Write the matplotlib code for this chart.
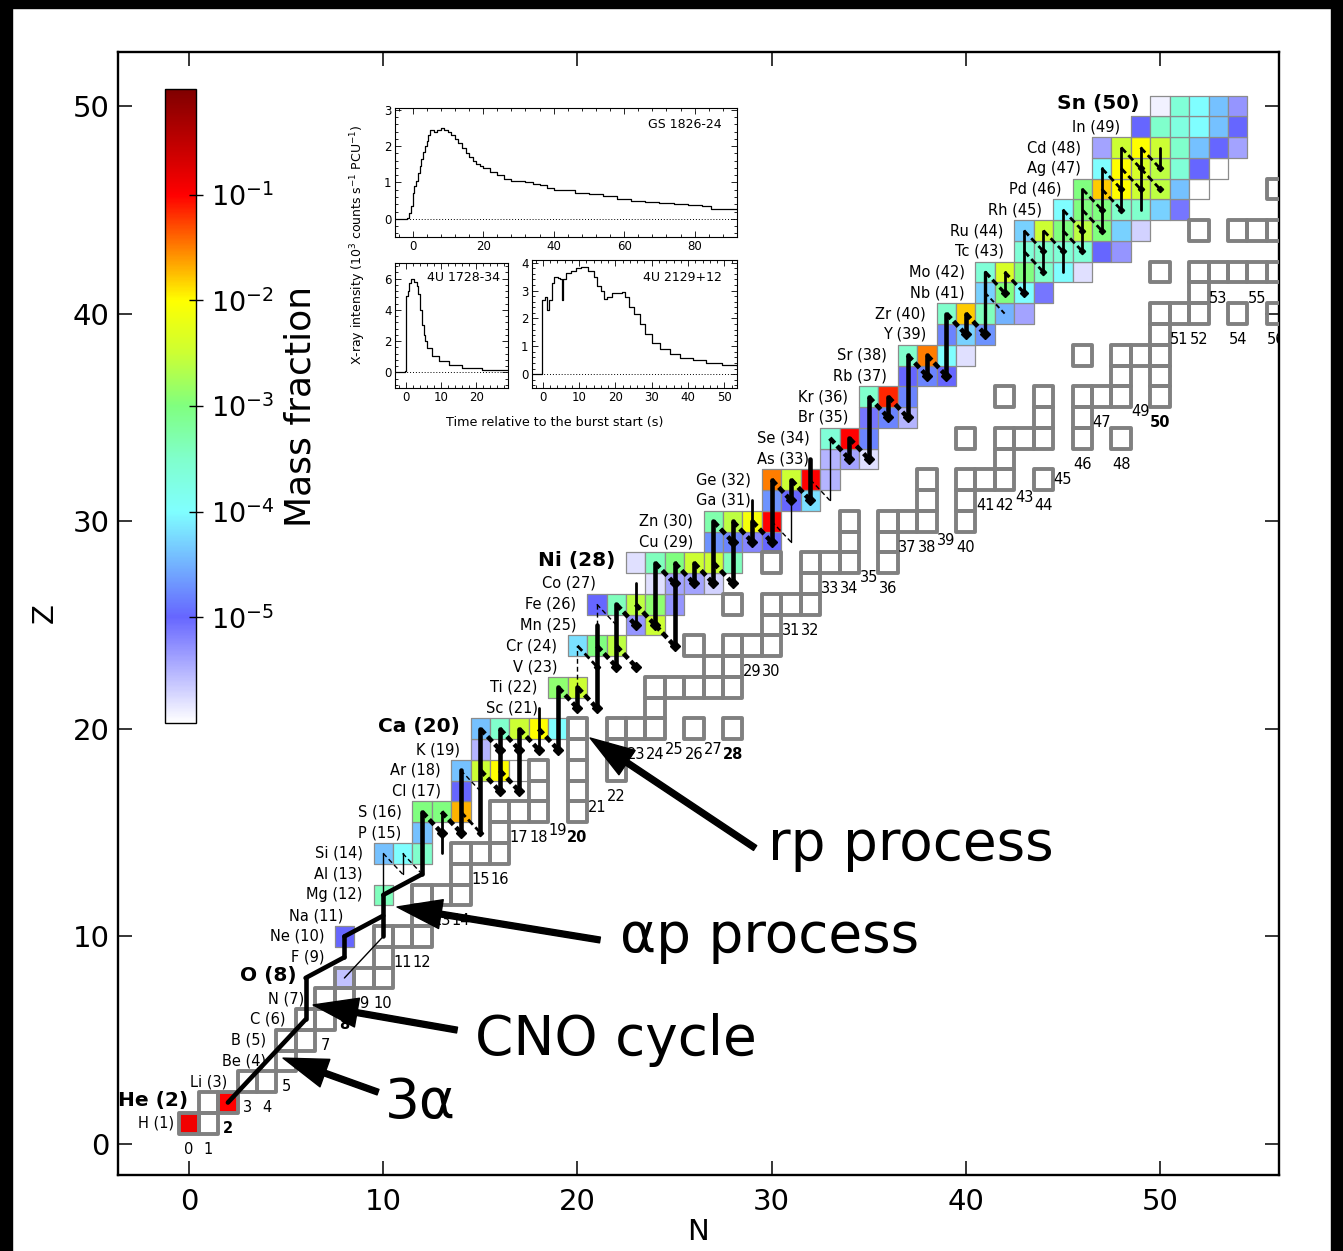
import matplotlib
matplotlib.use("Agg")
import matplotlib.pyplot as plt
from matplotlib.colors import LinearSegmentedColormap, LogNorm
from matplotlib.patches import Rectangle
from matplotlib.collections import PatchCollection
from matplotlib.cm import ScalarMappable
from matplotlib.ticker import AutoMinorLocator, NullLocator

plt.rcParams['font.family'] = ['DejaVu Sans']
plt.rcParams['mathtext.fontset'] = 'cm'

# ------------------------------------------------------------------ data
elements = ["H", "He", "Li", "Be", "B", "C", "N", "O", "F", "Ne", "Na", "Mg", "Al", "Si",
            "P", "S", "Cl", "Ar", "K", "Ca", "Sc", "Ti", "V", "Cr", "Mn", "Fe", "Co", "Ni",
            "Cu", "Zn", "Ga", "Ge", "As", "Se", "Br", "Kr", "Rb", "Sr", "Y", "Zr", "Nb", "Mo",
            "Tc", "Ru", "Rh", "Pd", "Ag", "Cd", "In", "Sn"]
magic = [2, 8, 20, 28, 50]

# stable nuclides: proton number and the neutron numbers of its stable isotopes
stable_Z = [1, 2, 3, 4, 5, 6, 7, 8, 9, 10, 11, 12, 13, 14, 15, 16, 17, 18, 19, 20, 21, 22,
            23, 24, 25, 26, 27, 28, 29, 30, 31, 32, 33, 34, 35, 36, 37, 38, 39, 40, 41, 42,
            44, 46]
stable_N = [[0, 1], [1, 2], [3, 4], [5], [5, 6], [6, 7], [7, 8], [8, 9, 10], [10],
            [10, 11, 12], [12], [12, 13, 14], [14], [14, 15, 16], [16], [16, 17, 18, 20],
            [18, 20], [18, 20, 22], [20, 22], [20, 22, 23, 24, 26, 28], [24],
            [24, 25, 26, 27, 28], [27, 28], [26, 28, 29, 30], [30], [28, 30, 31, 32], [32],
            [30, 32, 33, 34, 36], [34, 36], [34, 36, 37, 38, 40], [38, 40],
            [38, 40, 41, 42, 44], [42], [40, 42, 43, 44, 46, 48], [44, 46],
            [42, 44, 46, 47, 48, 50], [48, 50], [46, 48, 49, 50], [50],
            [50, 51, 52, 54, 56], [52], [50, 52, 53, 54, 55, 56], [52, 54, 55, 56], [56]]

# final mass fractions (log10) of burst ashes: row Z, first N of the row, values
ab_Z = [1, 2, 8, 10, 12, 14, 15, 16, 17, 18, 19, 20, 22, 24, 25, 26, 27, 28, 29, 30, 31,
        32, 33, 34, 35, 36, 37, 38, 39, 40, 41, 42, 43, 44, 45, 46, 47, 48, 49, 50]
ab_N0 = [0, 2, 8, 8, 10, 10, 12, 12, 14, 14, 15, 15, 19, 20, 23, 21, 24, 23, 27, 27, 30,
         30, 33, 33, 35, 35, 37, 37, 39, 39, 41, 41, 43, 43, 45, 46, 47, 47, 49, 50]
ab_logX = [[-0.9], [-1.0], [-5.6], [-5.0], [-3.4],
           [-4.4, -4.0, -3.5], [-4.4], [-3.0, -3.0, -1.7], [-5.0],
           [-4.4, -2.5, -2.0, -6.0], [-5.5], [-4.4, -3.5, -2.5, -2.0, -4.0],
           [-2.9, -2.5], [-4.2, -3.0, -2.6], [-5.3, -2.5],
           [-5.0, -3.4, -2.6, -2.9, -5.3], [-5.8, -5.4, -5.4, -5.7],
           [-5.8, -3.4, -3.0, -2.5, -2.5, -3.4], [-4.7, -4.8, -5.2, -5.0],
           [-3.3, -2.6, -2.1, -1.0], [-4.7, -5.0, -4.2], [-1.5, -2.5, -1.0, -5.5],
           [-5.5, -5.4, -5.8], [-3.6, -1.0, -4.8], [-5.1, -4.8, -5.5], [-3.5, -1.15, -4.8],
           [-5.0, -4.8, -5.0], [-3.5, -1.5, -4.0, -5.8], [-4.8, -4.3, -4.7],
           [-3.5, -1.8, -3.4, -4.5, -5.4], [-4.3, -3.0, -4.0, -5.1],
           [-3.6, -2.4, -3.0, -3.5, -4.0, -5.8], [-3.6, -3.5, -3.6, -3.6, -5.0, -5.3],
           [-4.3, -2.5, -3.0, -2.6, -3.0, -4.3, -5.7],
           [-4.0, -3.0, -3.0, -3.5, -3.5, -4.3, -5.1],
           [-3.0, -1.8, -2.0, -2.5, -2.6, -4.4, -6.3],
           [-4.0, -2.0, -2.4, -2.6, -3.6, -5.0, -6.3],
           [-5.4, -2.5, -2.0, -2.5, -3.5, -4.4, -5.0, -5.4],
           [-5.0, -3.5, -3.7, -4.0, -4.4, -5.0], [-5.9, -3.6, -4.0, -4.4, -5.3]]

# reaction flows (nuclide coordinates N, Z); weight 1 thin .. 3 thick
flow_other = [(2, 2, 6, 6, 3), (8, 8, 10, 10, 1)]             # 3alpha, (a,g)
flow_ap = [(6, 8, 3), (8, 10, 3), (10, 12, 3)]                 # (a,p): N+2, Z+1
flow_pg = [(6, 6, 8, 3, '-'), (8, 9, 10, 3, '-'), (10, 10, 12, 3, '-'), (10, 12, 14, 1, '-'),
           (11, 13, 14, 1, '-'), (12, 13, 16, 3, '-'), (13, 14, 16, 2, '-'),
           (14, 15, 18, 3, '-'), (15, 15, 20, 3, '-'), (16, 17, 20, 3, '-'),
           (17, 17, 20, 3, '-'), (18, 19, 21, 2, '-'), (19, 19, 22, 3, '-'),
           (20, 21, 22, 3, '-'), (20, 22, 24, 1, '--'), (21, 21, 25, 3, '-'),
           (21, 25, 26, 1, '--'), (22, 23, 26, 3, '-'), (23, 25, 27, 2, '-'),
           (24, 25, 28, 3, '-'), (25, 24, 28, 3, '-'), (26, 27, 28, 3, '-'),
           (27, 27, 30, 3, '-'), (28, 27, 30, 3, '-'), (29, 29, 30, 3, '-'),
           (29, 30, 31, 2, '-'), (30, 29, 32, 3, '-'), (31, 29, 31, 1, '-'),
           (31, 31, 32, 3, '-'), (32, 31, 33, 3, '-'), (33, 31, 34, 1, '-'),
           (34, 33, 34, 3, '-'), (35, 33, 36, 3, '-'), (36, 35, 36, 3, '-'),
           (37, 35, 38, 3, '-'), (38, 37, 38, 3, '-'), (39, 37, 40, 3, '-'),
           (40, 39, 40, 3, '-'), (41, 39, 42, 2.5, '-'), (42, 41, 42, 2, '-'),
           (43, 41, 44, 2, '-'), (44, 42, 44, 2, '-'), (45, 42, 45, 2, '-'),
           (46, 43, 46, 2, '-'), (47, 44, 47, 2, '-'), (48, 45, 48, 2, '-'),
           (49, 45, 48, 2, '-'), (50, 47, 48, 2, '-')]
flow_beta = [(10, 14, 1), (11, 14, 1), (12, 16, 3), (13, 16, 3), (14, 16, 2), (14, 18, 1),
             (15, 18, 3), (16, 18, 3), (15, 20, 3), (16, 20, 3), (17, 20, 3), (18, 20, 3),
             (19, 22, 3), (20, 22, 3), (20, 24, 2), (21, 24, 3), (22, 24, 3), (21, 26, 1),
             (22, 26, 3), (23, 26, 3), (24, 25, 3), (24, 28, 3), (25, 28, 3), (26, 28, 3),
             (27, 28, 3), (27, 30, 3), (28, 30, 3), (29, 30, 3), (30, 30, 1), (30, 32, 3),
             (31, 32, 3), (32, 32, 1), (33, 34, 3), (34, 34, 3), (35, 36, 3), (36, 36, 3),
             (37, 38, 3), (38, 38, 3), (39, 40, 3), (40, 40, 3), (41, 42, 2.5), (41, 41, 1.5),
             (42, 42, 2.5), (43, 44, 2), (43, 43, 2), (44, 44, 2), (45, 45, 2), (45, 44, 2),
             (46, 46, 2), (46, 45, 2), (47, 47, 2), (47, 46, 2), (48, 48, 2), (48, 47, 2),
             (49, 48, 2), (49, 47, 2)]

# X-ray burst light curves (time s, 10^3 counts/s/PCU)
gs_t = [-5, -1.5, -1, -0.5, 0, 0.5, 1, 1.5, 2, 2.5, 3, 3.5, 4, 4.5, 5, 6, 7, 8, 9, 10, 11,
        12, 13, 14, 15, 16, 17, 18, 19, 20, 22, 24, 26, 28, 30, 32, 34, 36, 38, 40, 43, 46,
        50, 54, 58, 62, 66, 70, 74, 78, 82, 84.5, 92]
gs_c = [0.0, 0.02, 0.15, 0.35, 0.7, 0.9, 1.05, 1.25, 1.45, 1.65, 1.85, 2.0, 2.15, 2.3, 2.45,
        2.4, 2.45, 2.5, 2.45, 2.4, 2.3, 2.2, 2.1, 1.95, 1.8, 1.7, 1.6, 1.5, 1.45, 1.4, 1.3,
        1.2, 1.1, 1.05, 1.05, 1.0, 0.97, 0.92, 0.85, 0.8, 0.78, 0.72, 0.68, 0.62, 0.55,
        0.5, 0.47, 0.43, 0.41, 0.38, 0.36, 0.27, 0.27]
u1728_t = [-3, -0.3, 0.2, 0.6, 1.1, 1.6, 2.5, 3.1, 3.6, 4.1, 4.6, 5.1, 5.6, 6.2, 7.6, 9.4,
           12.2, 16, 21.5, 29]
u1728_c = [0.05, 0.1, 4.9, 5.2, 5.7, 6.0, 5.8, 5.5, 5.0, 4.0, 3.0, 2.4, 2.0, 1.55, 1.05,
           0.72, 0.5, 0.3, 0.15, 0.15]
u2129_t = [-3, -0.2, 0.6, 1.2, 1.8, 2.5, 3.2, 4.1, 4.8, 5.3, 5.6, 6.4, 7.7, 9.1, 10.5, 12.3,
           14.1, 15.0, 15.9, 16.8, 17.7, 19.1, 20.5, 21.8, 22.7, 23.6, 25.0, 26.8, 28.2,
           30.0, 32.3, 35.0, 37.7, 41.4, 45.0, 49.5, 53.5]
u2129_c = [0.0, 2.66, 2.78, 2.3, 2.66, 3.27, 3.5, 3.45, 3.4, 2.66, 3.4, 3.63, 3.7, 3.8, 3.85,
           3.7, 3.5, 3.15, 3.0, 2.7, 2.78, 2.9, 2.93, 2.96, 2.78, 2.4, 2.17, 1.8, 1.44,
           1.13, 0.89, 0.71, 0.59, 0.49, 0.4, 0.32, 0.28]

# ------------------------------------------------------------------ layout helpers
elem_label_N = [0.3, 1, 3, 5, 5, 6, 7, 6.61, 8, 8, 9, 10, 10, 10, 12, 12, 14, 14, 15, 15, 19,
                19, 20, 20, 21, 21, 22, 23, 27, 27, 30, 30, 33, 33, 35, 35, 37, 37, 39, 39,
                41, 41, 43, 43, 45, 46, 47, 47, 49, 50]
nlabel_override = {19: 15.1, 21: 16.2, 25: 19.0, 27: 19.0, 35: 27.3, 39: 29.05, 43: 31.15,
                   45: 32.0, 49: 35.3}

W, H = 1343, 1251
fig = plt.figure(figsize=(W / 100, H / 100), dpi=100)
fig.patch.set_facecolor('white')
ax = fig.add_axes([118 / W, 1 - 1175 / H, (1279 - 118) / W, (1175 - 52) / H])
ax.set_xlim(-3.66, 56.13)
ax.set_ylim(-1.49, 52.6)

cols = [(0, (1, 1, 1)), (1 / 6, (0.4, 0.4, 1.0)), (0.25, (0.45, 0.7, 1.0)),
        (2 / 6, (0.5, 1.0, 1.0)), (2.5 / 6, (0.5, 1.0, 0.8)), (0.5, (0.5, 1.0, 0.5)),
        (3.5 / 6, (0.8, 1.0, 0.2)), (4 / 6, (1.0, 1.0, 0.0)), (0.75, (1.0, 0.5, 0.0)),
        (5 / 6, (1.0, 0.0, 0.0)), (1.0, (0.5, 0.0, 0.0))]
cmap = LinearSegmentedColormap.from_list('massfrac', cols, N=512)
norm = LogNorm(1e-6, 1.0)

rects, fcs = [], []
for Z, N0, vals in zip(ab_Z, ab_N0, ab_logX):
    for i, v in enumerate(vals):
        rects.append(Rectangle((N0 + i - 0.5, Z - 0.5), 1, 1))
        fcs.append(cmap(norm(10 ** v)))
ax.add_collection(PatchCollection(rects, facecolors=fcs, edgecolors='0.55',
                                  linewidths=0.9, zorder=2))

srects = [Rectangle((N - 0.5, Z - 0.5), 1, 1)
          for Z, Ns in zip(stable_Z, stable_N) for N in Ns]
ax.add_collection(PatchCollection(srects, facecolors='none', edgecolors='0.5',
                                  linewidths=2.8, zorder=3))

lw_of = {1: 1.0, 1.5: 1.4, 2: 2.0, 2.5: 2.4, 3: 3.3}


def line(n1, z1, n2, z2, w, ls='-'):
    lw = lw_of[w]
    if ls == '--':
        d = 5.0 if w >= 2 else 3.5
        g = 2.6 if w >= 2 else 2.2
        ls = (0, (d / lw, g / lw))
    ax.plot([n1, n2], [z1, z2], color='k', lw=lw, ls=ls, solid_capstyle='round',
            dash_capstyle='butt', zorder=4)


for n1, z1, n2, z2, w in flow_other:
    line(n1, z1, n2, z2, w)
for n, z, w in flow_ap:
    line(n, z, n + 2, z + 1, w)
for n, zlo, zhi, w, ls in flow_pg:
    line(n, zlo, n, zhi, w, ls)
for n, z, w in flow_beta:
    line(n, z, n + 1, z - 1, w, '--')
    if w >= 2:
        ax.plot(n + 1, z - 1, marker='D', ms=1.6 * lw_of[w], color='k', zorder=4)

# element labels
for i, name in enumerate(elements):
    Z = i + 1
    x = elem_label_N[i] - 1.05
    if Z in magic:
        ax.text(x, Z + 0.1, f"{name} ({Z})", ha='right', va='center', fontsize=14.5,
                fontweight='bold', zorder=5)
    else:
        ax.text(x, Z, f"{name} ({Z})", ha='right', va='center', fontsize=10.5, zorder=5)

# neutron number labels
zmin = {}
for Z, Ns in zip(stable_Z, stable_N):
    for N in Ns:
        zmin[N] = min(zmin.get(N, 99), Z)
for N in range(0, 57):
    zl = nlabel_override.get(N, zmin.get(N, 0) - 1.25)
    ax.text(N, zl, str(N), ha='center', va='center', fontsize=10.5,
            fontweight='bold' if N in magic else 'normal', zorder=5, clip_on=True)

# process annotations
arrow_kw = dict(facecolor='k', edgecolor='k', width=4.2, headwidth=21, headlength=32,
                shrink=0)
ax.annotate('', xy=(20.65, 19.56), xytext=(29.15, 14.26), arrowprops=arrow_kw, zorder=6)
ax.annotate('', xy=(10.71, 11.42), xytext=(21.16, 9.83), arrowprops=arrow_kw, zorder=6)
ax.annotate('', xy=(6.39, 6.70), xytext=(13.8, 5.49), arrowprops=arrow_kw, zorder=6)
ax.annotate('', xy=(4.84, 4.14), xytext=(9.73, 2.50), arrowprops=arrow_kw, zorder=6)
ax.text(29.81, 13.68, 'rp process', fontsize=39.5, va='baseline', ha='left', zorder=6)
ax.text(22.19, 9.25, 'αp process', fontsize=39.5, va='baseline', ha='left', zorder=6)
ax.text(14.73, 4.29, 'CNO cycle', fontsize=39.5, va='baseline', ha='left', zorder=6)
ax.text(10.09, 1.25, '3α', fontsize=39.5, va='baseline', ha='left', zorder=6)

ax.set_xticks(range(0, 51, 10))
ax.set_yticks(range(0, 51, 10))
ax.tick_params(direction='in', length=10, width=1.1, top=True, right=True, labelsize=21)
ax.tick_params(axis='x', pad=9)
ax.tick_params(axis='y', pad=6)
for s in ax.spines.values():
    s.set_linewidth(1.7)
ax.set_xlabel('N', fontsize=21, labelpad=2)
ax.set_ylabel('Z', fontsize=21, labelpad=10)

# colorbar
cax = fig.add_axes([165 / W, 1 - 723 / H, 31 / W, (723 - 89) / H])
cb = fig.colorbar(ScalarMappable(norm=norm, cmap=cmap), cax=cax)
cb.set_ticks([1e-5, 1e-4, 1e-3, 1e-2, 1e-1])
cax.yaxis.set_minor_locator(NullLocator())
cax.tick_params(direction='inout', length=10, width=1, labelsize=19.5, pad=6)
cb.outline.set_linewidth(1.0)
cb.set_label('Mass fraction', fontsize=26, labelpad=6)


# light-curve inset
def inset(rect, t, c, xlim, ylim, xt, yt, label, lx, ly):
    a = fig.add_axes(rect)
    a.step(t, c, where='post', color='k', lw=0.9)
    a.axhline(0, color='k', ls=(0, (1, 2)), lw=0.7)
    a.set_xlim(*xlim)
    a.set_ylim(*ylim)
    a.set_xticks(xt)
    a.set_yticks(yt)
    a.xaxis.set_minor_locator(AutoMinorLocator(5))
    a.yaxis.set_minor_locator(AutoMinorLocator(5))
    a.tick_params(which='both', direction='in', top=True, right=True, labelsize=8.5,
                  width=0.6, pad=2.5)
    a.tick_params(which='major', length=4)
    a.tick_params(which='minor', length=2)
    for s in a.spines.values():
        s.set_linewidth(0.8)
    a.text(lx, ly, label, transform=a.transAxes, ha='right', va='center', fontsize=9)
    return a


inset([395 / W, 1 - 237 / H, 342 / W, 129 / H], gs_t, gs_c, (-5, 92), (-0.5, 3.05),
      [0, 20, 40, 60, 80], [0, 1, 2, 3], 'GS 1826-24', 0.956, 0.875)
inset([395 / W, 1 - 388 / H, 113 / W, 125 / H], u1728_t, u1728_c, (-3, 29), (-1, 7),
      [0, 10, 20], [0, 2, 4, 6], '4U 1728-34', 0.93, 0.88)
inset([532 / W, 1 - 388 / H, 205 / W, 128 / H], u2129_t, u2129_c, (-3, 53.5), (-0.5, 4.1),
      [0, 10, 20, 30, 40, 50], [0, 1, 2, 3, 4], '4U 2129+12', 0.927, 0.86)
fig.text(358 / W, 1 - 245 / H,
         r'X-ray intensity (10$\mathregular{^3}$ counts s$\mathregular{^{-1}}$ '
         r'PCU$\mathregular{^{-1}}$)', rotation=90, fontsize=9, ha='center', va='center')
fig.text(555 / W, 1 - 422 / H, 'Time relative to the burst start (s)', fontsize=9.2,
         ha='center', va='center')

# black frame strips of the original picture
for rx, ry, rw, rh in [(0, 0, 12 / W, 1), (1 - 12 / W, 0, 12 / W, 1), (0, 1 - 8 / H, 1, 8 / H)]:
    fig.add_artist(Rectangle((rx, ry), rw, rh, transform=fig.transFigure, color='black',
                             zorder=20))

fig.savefig('out.png', dpi=100)
